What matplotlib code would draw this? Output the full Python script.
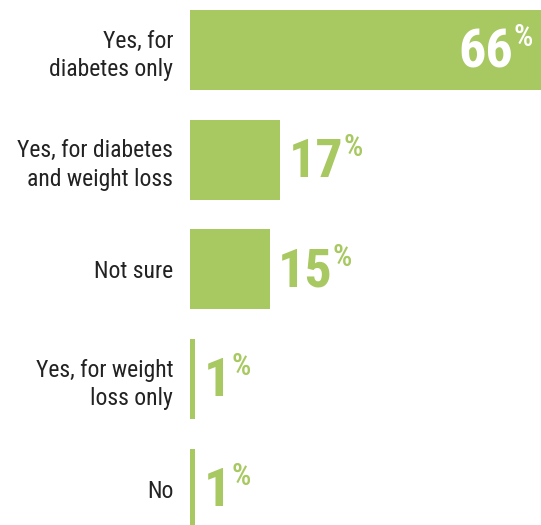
import matplotlib
matplotlib.use("Agg")
import matplotlib.pyplot as plt

categories = [
    "Yes, for\ndiabetes only",
    "Yes, for diabetes\nand weight loss",
    "Not sure",
    "Yes, for weight\nloss only",
    "No",
]
values = [66, 17, 15, 1, 1]

green = "#a8c862"
fonts = ["Roboto Condensed", "Liberation Sans Narrow", "DejaVu Sans"]

fig = plt.figure(figsize=(5.41, 5.25), dpi=100)
ax = fig.add_axes([190 / 541, 0, 351 / 541, 1])

ypos = list(range(len(values)))
ax.barh(ypos, values, height=0.73, color=green)
ax.set_xlim(0, max(values))
ax.set_ylim(4.33, -0.456)

ax.set_yticks(ypos)
ax.set_yticklabels(categories, family=fonts, fontsize=17, color="#222222",
                   ha="right", linespacing=1.3)
ax.tick_params(axis="y", length=0, pad=12)
ax.set_xticks([])
for s in ax.spines.values():
    s.set_visible(False)

for y, v in zip(ypos, values):
    inside = v == max(values)
    col = "white" if inside else green
    if inside:
        t = ax.annotate(str(v), xy=(v, y), xytext=(-20, -2), textcoords="offset points",
                        ha="right", va="center", fontsize=39, fontweight="bold",
                        color=col, family=fonts)
    else:
        t = ax.annotate(str(v), xy=(v, y), xytext=(6, -2), textcoords="offset points",
                        ha="left", va="center", fontsize=39, fontweight="bold",
                        color=col, family=fonts)
    ax.annotate("%", xy=(1, 1), xycoords=t, xytext=(0, 3), textcoords="offset points",
                ha="left", va="top", fontsize=22, fontweight="medium",
                color=col, family=fonts)

fig.savefig("out.png", dpi=100)
